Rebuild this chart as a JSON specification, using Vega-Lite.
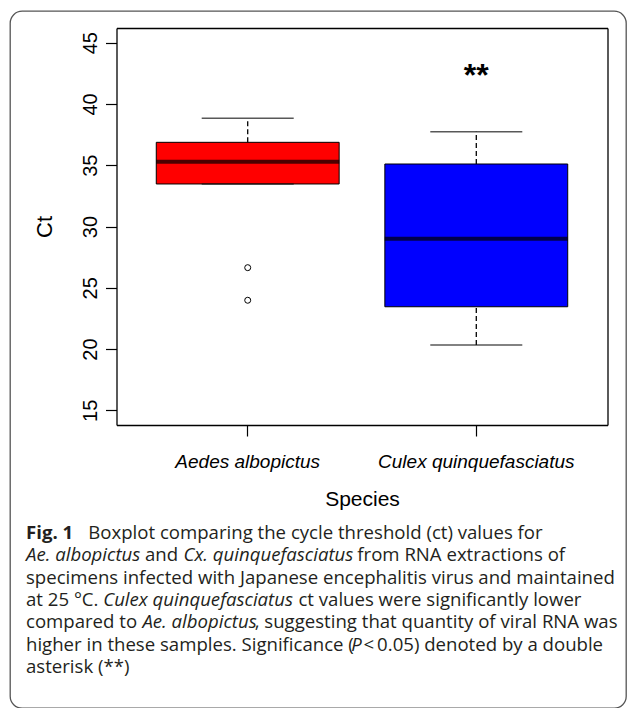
{
  "$schema": "https://vega.github.io/schema/vega-lite/v6.json",
  "width": 616,
  "height": 697,
  "autosize": {"type": "none"},
  "padding": {"left": 10, "top": 11, "right": 1, "bottom": 0},
  "background": "white",
  "config": {
    "view": {"stroke": "#555555", "strokeWidth": 1.3, "cornerRadius": 12, "fill": "white"},
    "font": "Liberation Sans"
  },
  "datasets": {
    "box": [
      {"species": "Aedes albopictus", "lower": 33.47, "q1": 33.47, "median": 35.29, "q3": 36.87, "upper": 38.83},
      {"species": "Culex quinquefasciatus", "lower": 20.33, "q1": 23.45, "median": 29.0, "q3": 35.1, "upper": 37.74}
    ],
    "outliers": [
      {"species": "Aedes albopictus", "ct": 26.64},
      {"species": "Aedes albopictus", "ct": 23.98}
    ],
    "annot": [
      {"species": "Culex quinquefasciatus", "y": 41.5, "label": "**"}
    ],
    "caption": [
      {"line": 1, "seg": "1a", "text": "Fig. 1"},
      {"line": 1, "seg": "1b", "text": "Boxplot comparing the cycle threshold (ct) values for"},
      {"line": 2, "seg": "2a", "text": "Ae. albopictus"},
      {"line": 2, "seg": "2b", "text": "and"},
      {"line": 2, "seg": "2c", "text": "Cx. quinquefasciatus"},
      {"line": 2, "seg": "2d", "text": "from RNA extractions of"},
      {"line": 3, "seg": "r0", "text": "specimens infected with Japanese encephalitis virus and maintained"},
      {"line": 4, "seg": "r0", "text": "at 25 °C."},
      {"line": 4, "seg": "4b", "text": "Culex quinquefasciatus"},
      {"line": 4, "seg": "4c", "text": "ct values were significantly lower"},
      {"line": 5, "seg": "r0", "text": "compared to"},
      {"line": 5, "seg": "5b", "text": "Ae. albopictus"},
      {"line": 5, "seg": "5c", "text": ", suggesting that quantity of viral RNA was"},
      {"line": 6, "seg": "r0", "text": "higher in these samples. Significance ("},
      {"line": 6, "seg": "6b", "text": "P"},
      {"line": 6, "seg": "6c", "text": "<\u20090.05) denoted by a double"},
      {"line": 7, "seg": "r0", "text": "asterisk (**)"}
    ]
  },
  "layer": [
    {
      "layer": [
        {
          "layer": [
            {
              "data": {"name": "box"},
              "mark": {"type": "bar", "stroke": "black", "strokeWidth": 1},
              "encoding": {
                "x": {
                  "field": "species", "type": "nominal",
                  "scale": {"type": "band", "range": [106.5, 597.5], "paddingInner": 0.2, "paddingOuter": 0.174},
                  "axis": {
                    "orient": "bottom", "offset": -283, "title": "Species", "titleFontSize": 21, "titleFontWeight": "normal",
                    "titleColor": "black", "titlePadding": 17, "titleFont": "Liberation Sans",
                    "labelFont": "Liberation Sans", "labelFontStyle": "italic", "labelFontSize": 19, "labelColor": "black",
                    "labelPadding": 16, "labelAngle": 0, "labelLimit": 400, "tickSize": 11, "tickWidth": 1.2, "tickColor": "black",
                    "domainColor": "black", "domainWidth": 1.3, "grid": false
                  }
                },
                "y": {
                  "field": "q1", "type": "quantitative",
                  "scale": {"domain": [13.8, 46.2], "range": [414, 17], "nice": false, "zero": false},
                  "axis": {
                    "orient": "left", "offset": -106.5, "values": [15, 20, 25, 30, 35, 40, 45],
                    "title": "Ct", "titleFontSize": 22, "titleFontWeight": "normal", "titleColor": "black", "titlePadding": 24,
                    "titleFont": "Liberation Sans",
                    "labelFont": "Liberation Sans", "labelFontSize": 20, "labelColor": "black", "labelAngle": 270,
                    "labelAlign": "center", "labelBaseline": "alphabetic", "labelPadding": 9, "labelOverlap": false,
                    "labelFlush": false,
                    "tickSize": 11, "tickWidth": 1.2, "tickColor": "black", "domainColor": "black", "domainWidth": 1.3,
                    "grid": false
                  }
                },
                "y2": {"field": "q3"},
                "color": {
                  "field": "species", "type": "nominal",
                  "scale": {"domain": ["Aedes albopictus", "Culex quinquefasciatus"], "range": ["#ff0000", "#0000ff"]},
                  "legend": null
                }
              }
            },
            {
              "data": {"name": "box"},
              "mark": {"type": "rule", "color": "black", "strokeWidth": 1.3, "strokeDash": [5, 3]},
              "encoding": {
                "x": {"field": "species", "type": "nominal"},
                "y": {"field": "q3", "type": "quantitative"},
                "y2": {"field": "upper"}
              }
            },
            {
              "data": {"name": "box"},
              "mark": {"type": "rule", "color": "black", "strokeWidth": 1.3, "strokeDash": [5, 3]},
              "encoding": {
                "x": {"field": "species", "type": "nominal"},
                "y": {"field": "lower", "type": "quantitative"},
                "y2": {"field": "q1"}
              }
            },
            {
              "data": {"name": "box"},
              "mark": {"type": "tick", "color": "#111111", "size": 92, "thickness": 1.5, "orient": "horizontal"},
              "encoding": {
                "x": {"field": "species", "type": "nominal"},
                "y": {"field": "upper", "type": "quantitative"}
              }
            },
            {
              "data": {"name": "box"},
              "mark": {"type": "tick", "color": "#111111", "size": 92, "thickness": 1.5, "orient": "horizontal"},
              "encoding": {
                "x": {"field": "species", "type": "nominal"},
                "y": {"field": "lower", "type": "quantitative"}
              }
            },
            {
              "data": {"name": "box"},
              "mark": {"type": "tick", "color": "black", "size": 183, "thickness": 4, "orient": "horizontal"},
              "encoding": {
                "x": {"field": "species", "type": "nominal"},
                "y": {"field": "median", "type": "quantitative"}
              }
            },
            {
              "data": {"name": "annot"},
              "mark": {"type": "text", "font": "Liberation Sans", "fontWeight": "bold", "fontSize": 32, "baseline": "alphabetic", "align": "center", "color": "black"},
              "encoding": {
                "x": {"field": "species", "type": "nominal"},
                "y": {"field": "y", "type": "quantitative"},
                "text": {"field": "label"}
              }
            }
          ]
        },
        {
          "data": {"name": "outliers"},
          "mark": {"type": "point", "shape": "circle", "filled": false, "stroke": "black", "strokeWidth": 1, "size": 36, "opacity": 1},
          "encoding": {
            "x": {
              "field": "species", "type": "nominal",
              "axis": {"orient": "top", "offset": -17, "labels": false, "ticks": false, "title": null, "domain": true, "domainColor": "black", "domainWidth": 1.3, "grid": false}
            },
            "y": {
              "field": "ct", "type": "quantitative",
              "axis": {"orient": "right", "offset": -18.5, "labels": false, "ticks": false, "title": null, "domain": true, "domainColor": "black", "domainWidth": 1.3, "grid": false}
            }
          }
        }
      ],
      "resolve": {"axis": {"x": "independent", "y": "independent"}}
    },
    {
      "data": {"name": "caption"},
      "layer": [
        {
          "transform": [{"filter": "datum.seg === '1a'"}],
          "mark": {"type": "text", "font": "Open Sans", "fontSize": 18.6, "fontWeight": "bold", "align": "left", "baseline": "alphabetic", "color": "#231f20"},
          "encoding": {"x": {"value": 16}, "y": {"field": "line", "type": "ordinal", "scale": {"type": "point", "range": [528, 661.8], "padding": 0}, "axis": null}, "text": {"field": "text"}}
        },
        {
          "transform": [{"filter": "datum.seg === '1b'"}],
          "mark": {"type": "text", "font": "Open Sans", "fontSize": 18.6, "align": "left", "baseline": "alphabetic", "color": "#231f20"},
          "encoding": {"x": {"value": 78.3}, "y": {"field": "line", "type": "ordinal", "axis": null}, "text": {"field": "text"}}
        },
        {
          "transform": [{"filter": "datum.seg === '2a'"}],
          "mark": {"type": "text", "font": "Open Sans", "fontSize": 18.6, "fontStyle": "italic", "align": "left", "baseline": "alphabetic", "color": "#231f20"},
          "encoding": {"x": {"value": 16}, "y": {"field": "line", "type": "ordinal", "axis": null}, "text": {"field": "text"}}
        },
        {
          "transform": [{"filter": "datum.seg === '2b'"}],
          "mark": {"type": "text", "font": "Open Sans", "fontSize": 18.6, "align": "left", "baseline": "alphabetic", "color": "#231f20"},
          "encoding": {"x": {"value": 134.9}, "y": {"field": "line", "type": "ordinal", "axis": null}, "text": {"field": "text"}}
        },
        {
          "transform": [{"filter": "datum.seg === '2c'"}],
          "mark": {"type": "text", "font": "Open Sans", "fontSize": 18.6, "fontStyle": "italic", "align": "left", "baseline": "alphabetic", "color": "#231f20"},
          "encoding": {"x": {"value": 173.5}, "y": {"field": "line", "type": "ordinal", "axis": null}, "text": {"field": "text"}}
        },
        {
          "transform": [{"filter": "datum.seg === '2d'"}],
          "mark": {"type": "text", "font": "Open Sans", "fontSize": 18.6, "align": "left", "baseline": "alphabetic", "color": "#231f20"},
          "encoding": {"x": {"value": 347.3}, "y": {"field": "line", "type": "ordinal", "axis": null}, "text": {"field": "text"}}
        },
        {
          "transform": [{"filter": "datum.seg === 'r0'"}],
          "mark": {"type": "text", "font": "Open Sans", "fontSize": 18.6, "align": "left", "baseline": "alphabetic", "color": "#231f20"},
          "encoding": {"x": {"value": 16}, "y": {"field": "line", "type": "ordinal", "axis": null}, "text": {"field": "text"}}
        },
        {
          "transform": [{"filter": "datum.seg === '4b'"}],
          "mark": {"type": "text", "font": "Open Sans", "fontSize": 18.6, "fontStyle": "italic", "align": "left", "baseline": "alphabetic", "color": "#231f20"},
          "encoding": {"x": {"value": 93.2}, "y": {"field": "line", "type": "ordinal", "axis": null}, "text": {"field": "text"}}
        },
        {
          "transform": [{"filter": "datum.seg === '4c'"}],
          "mark": {"type": "text", "font": "Open Sans", "fontSize": 18.6, "align": "left", "baseline": "alphabetic", "color": "#231f20"},
          "encoding": {"x": {"value": 288.4}, "y": {"field": "line", "type": "ordinal", "axis": null}, "text": {"field": "text"}}
        },
        {
          "transform": [{"filter": "datum.seg === '5b'"}],
          "mark": {"type": "text", "font": "Open Sans", "fontSize": 18.6, "fontStyle": "italic", "align": "left", "baseline": "alphabetic", "color": "#231f20"},
          "encoding": {"x": {"value": 132.4}, "y": {"field": "line", "type": "ordinal", "axis": null}, "text": {"field": "text"}}
        },
        {
          "transform": [{"filter": "datum.seg === '5c'"}],
          "mark": {"type": "text", "font": "Open Sans", "fontSize": 18.6, "align": "left", "baseline": "alphabetic", "color": "#231f20"},
          "encoding": {"x": {"value": 244.7}, "y": {"field": "line", "type": "ordinal", "axis": null}, "text": {"field": "text"}}
        },
        {
          "transform": [{"filter": "datum.seg === '6b'"}],
          "mark": {"type": "text", "font": "Open Sans", "fontSize": 18.6, "fontStyle": "italic", "align": "left", "baseline": "alphabetic", "color": "#231f20"},
          "encoding": {"x": {"value": 341.2}, "y": {"field": "line", "type": "ordinal", "axis": null}, "text": {"field": "text"}}
        },
        {
          "transform": [{"filter": "datum.seg === '6c'"}],
          "mark": {"type": "text", "font": "Open Sans", "fontSize": 18.6, "align": "left", "baseline": "alphabetic", "color": "#231f20"},
          "encoding": {"x": {"value": 353.4}, "y": {"field": "line", "type": "ordinal", "axis": null}, "text": {"field": "text"}}
        }
      ]
    }
  ],
  "resolve": {"scale": {"y": "independent"}}
}
